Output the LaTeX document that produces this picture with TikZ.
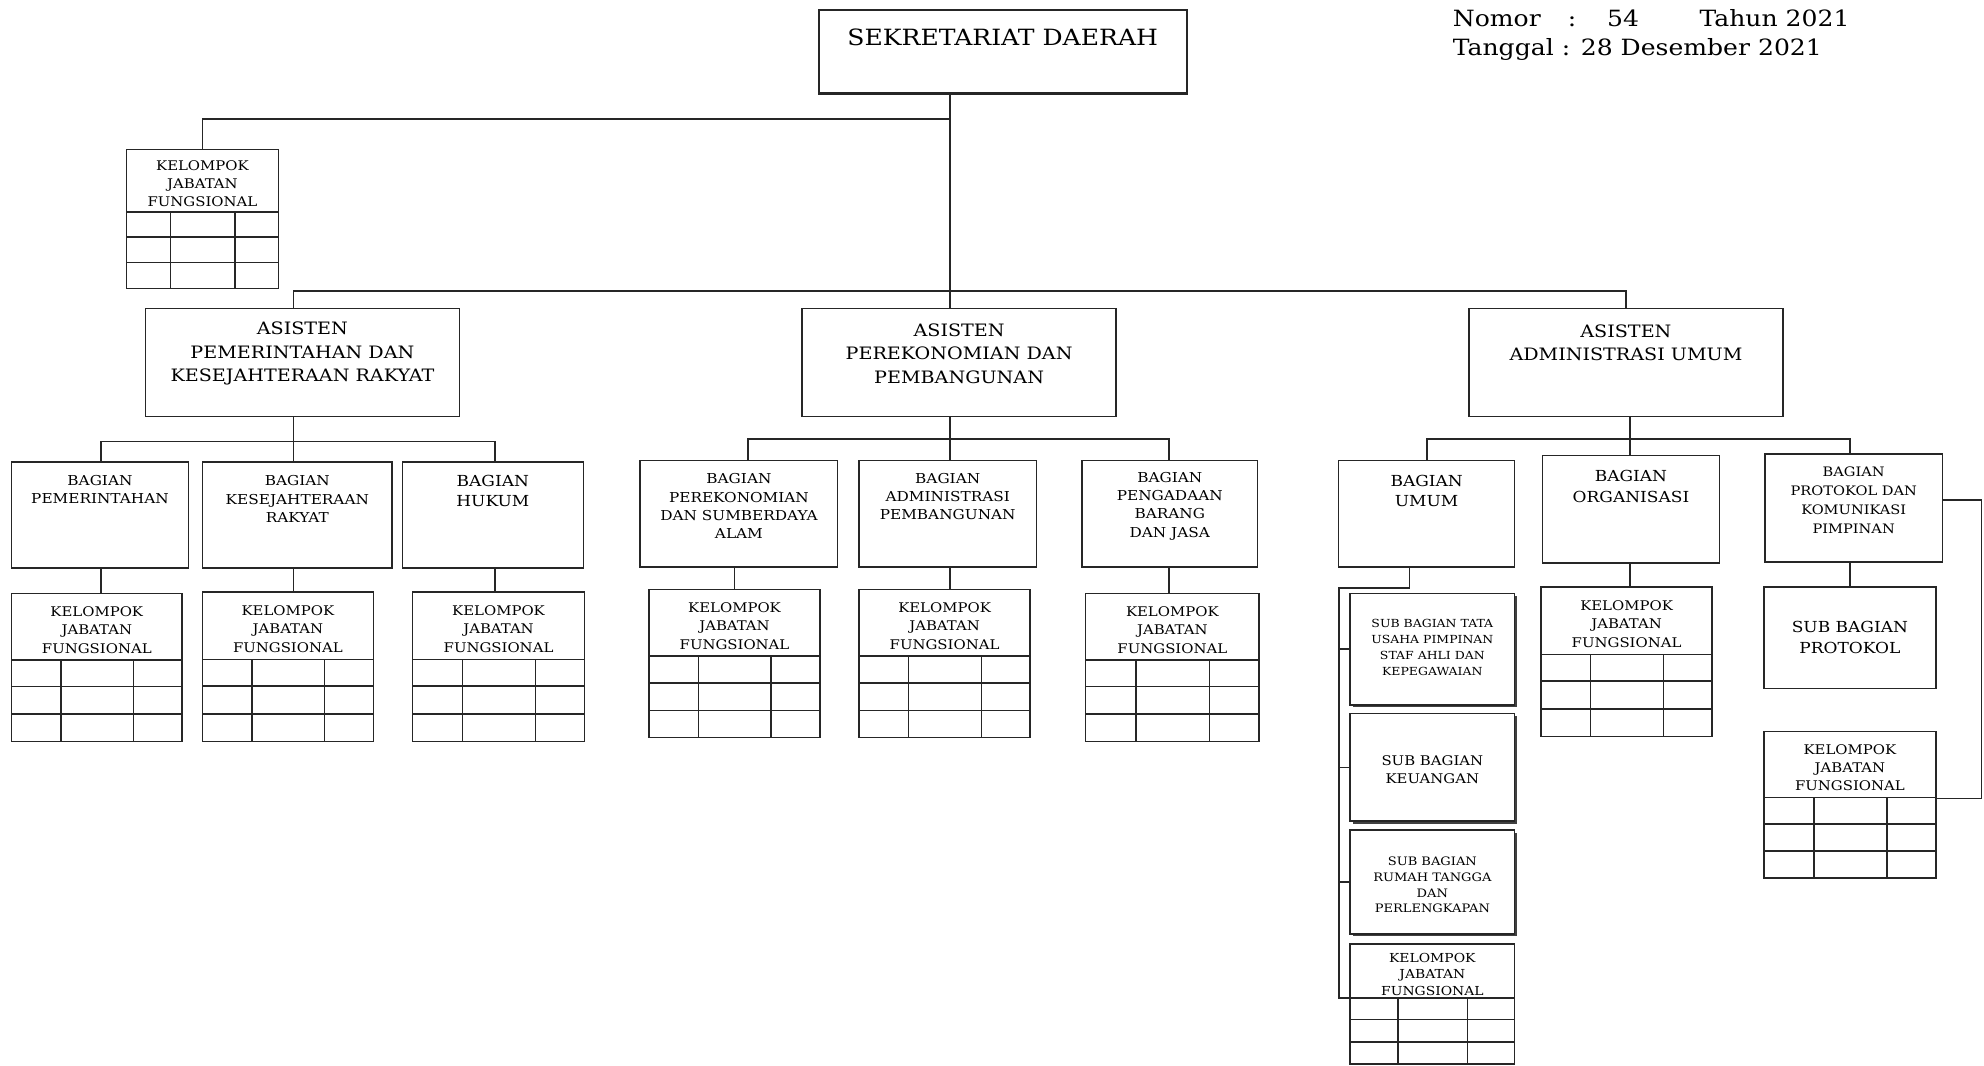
\documentclass[tikz,border=0pt]{standalone}
\usepackage{fontspec}
\setmainfont{DejaVu Serif}[FakeStretch=1.12]
\usetikzlibrary{shadows}
\newcommand\ocSek{\fontsize{17.7}{20}\selectfont}
\newcommand\ocHdr{\fontsize{17.7}{20}\selectfont}
\newcommand\ocAst{\fontsize{13.5}{18.5}\selectfont}
\newcommand\ocSm{\fontsize{10.8}{14.5}\selectfont}
\newcommand\ocMd{\fontsize{12}{16.5}\selectfont}
\newcommand\ocNine{\fontsize{10.3}{15}\selectfont}
\newcommand\ocTiny{\fontsize{8.8}{12.7}\selectfont}
\newcommand\ocTinyB{\fontsize{9.2}{12.3}\selectfont}
\newcommand\ocSbt{\fontsize{10.5}{14}\selectfont}
\newcommand\ocKj{\fontsize{10.5}{14.5}\selectfont}
\newcommand\ocKjs{\fontsize{9.8}{13}\selectfont}
\tikzset{
  bx/.style={draw=black!85, line width=1.2pt, fill=white, inner sep=0pt, outer sep=0pt},
  bxk/.style={bx, line width=1.8pt},
  sbx/.style={bx, drop shadow={shadow xshift=2pt, shadow yshift=-2pt, fill=black!75, opacity=1}},
  bxl/.style={draw=black!85, line width=1.2pt},
  ln/.style={draw=black!85, line width=1.4pt},
  tx/.style={align=center, inner sep=0pt, text=black},
  hdr/.style={inner sep=0pt, text=black, font=\ocHdr}
}
% #1 style, #2 name, #3 x1, #4 y1, #5 x2, #6 y2, #7 text centre y, #8 font, #9 text
\newcommand\obox[9]{%
  \node[#1, minimum width={#5-#3}, minimum height={#6-#4}] (#2) at ({(#3+#5)/2},{(#4+#6)/2}) {};
  \node[tx, font=#8] (#2-t) at ({(#3+#5)/2},#7) {#9};
}
\newcommand\kjf[6]{%
  \pgfmathsetmacro\kxa{#2+0.29*(#4-#2)}%
  \pgfmathsetmacro\kxb{#2+0.715*(#4-#2)}%
  \pgfmathsetmacro\kya{#3+0.45*(#5-#3)}%
  \pgfmathsetmacro\kyb{#3+0.63*(#5-#3)}%
  \pgfmathsetmacro\kyc{#3+0.815*(#5-#3)}%
  \pgfmathsetmacro\kyt{#3+0.225*(#5-#3)+2.5}%
  \node[bx, minimum width={#4-#2}, minimum height={#5-#3}] (#1) at ({(#2+#4)/2},{(#3+#5)/2}) {};
  \draw[bxl] (#2,\kya) -- (#4,\kya) (#2,\kyb) -- (#4,\kyb) (#2,\kyc) -- (#4,\kyc)
             (\kxa,\kya) -- (\kxa,#5) (\kxb,\kya) -- (\kxb,#5);
  \node[tx, font=#6] (#1-t) at ({(#2+#4)/2},\kyt) {KELOMPOK\\JABATAN\\FUNGSIONAL};
}
\begin{document}
\begin{tikzpicture}[x=1pt, y=-1pt]
\fill[white] (0,0) rectangle (1568,842);
\useasboundingbox (0,0) rectangle (1568,842);

% header text
\node[hdr, anchor=base west] (nomor) at (1148,21) {\makebox[91pt][l]{Nomor}\makebox[31pt][l]{:}\makebox[73pt][l]{54}Tahun 2021};
\node[hdr, anchor=base west] (tgl) at (1148,43.5) {Tanggal : 28 Desember 2021};

% top
\obox{bxk}{sek}{647}{8}{938}{74}{29.5}{\ocSek}{SEKRETARIAT DAERAH}
\kjf{K0}{100}{118}{220}{228}{\ocKj}

% assistants
\obox{bx}{A1}{115}{244}{363}{329}{279.5}{\ocAst}{ASISTEN\\PEMERINTAHAN DAN\\KESEJAHTERAAN RAKYAT}
\obox{bx}{A2}{634}{244}{882}{329}{279.5}{\ocAst}{ASISTEN\\PEREKONOMIAN DAN\\PEMBANGUNAN}
\obox{bx}{A3}{1161}{244}{1409}{329}{271}{\ocAst}{ASISTEN\\ADMINISTRASI UMUM}

% bagian
\obox{bx}{B1}{9}{365}{149}{449}{387}{\ocSm}{BAGIAN\\PEMERINTAHAN}
\obox{bx}{B2}{160}{365}{310}{449}{394.5}{\ocSm}{BAGIAN\\KESEJAHTERAAN\\RAKYAT}
\obox{bx}{B3}{318}{365}{461}{449}{388}{\ocMd}{BAGIAN\\HUKUM}
\obox{bx}{B4}{506}{364}{662}{448}{400}{\ocSm}{BAGIAN\\PEREKONOMIAN\\DAN SUMBERDAYA\\ALAM}
\obox{bx}{B5}{679}{364}{819}{448}{392.5}{\ocSm}{BAGIAN\\ADMINISTRASI\\PEMBANGUNAN}
\obox{bx}{B6}{855}{364}{994}{448}{400}{\ocSm}{BAGIAN\\PENGADAAN\\BARANG\\DAN JASA}
\obox{bx}{B7}{1058}{364}{1197}{448}{388}{\ocMd}{BAGIAN\\UMUM}
\obox{bx}{B8}{1219}{360}{1359}{445}{384.5}{\ocMd}{BAGIAN\\ORGANISASI}
\obox{bx}{B9}{1395}{359}{1535}{444}{395.5}{\ocNine}{BAGIAN\\PROTOKOL DAN\\KOMUNIKASI\\PIMPINAN}

% sub bagian
\obox{sbx}{SB1}{1067}{469}{1197}{557}{512}{\ocTiny}{SUB BAGIAN TATA\\USAHA PIMPINAN\\STAF AHLI DAN\\KEPEGAWAIAN}
\obox{sbx}{SB2}{1067}{564}{1197}{649}{608}{\ocSbt}{SUB BAGIAN\\KEUANGAN}
\obox{sbx}{SB3}{1067}{656}{1197}{738}{699.5}{\ocTinyB}{SUB BAGIAN\\RUMAH TANGGA\\DAN\\PERLENGKAPAN}
\obox{bx}{SBP}{1394}{464}{1530}{544}{503.5}{\ocMd}{SUB BAGIAN\\PROTOKOL}

% kelompok jabatan fungsional
\kjf{K1}{9}{469}{144}{586}{\ocKj}
\kjf{K2}{160}{468}{295}{586}{\ocKj}
\kjf{K3}{326}{468}{462}{586}{\ocKj}
\kjf{K4}{513}{466}{648}{583}{\ocKj}
\kjf{K5}{679}{466}{814}{583}{\ocKj}
\kjf{K6}{858}{469}{995}{586}{\ocKj}
\kjf{K8}{1218}{464}{1353}{582}{\ocKj}
\kjf{K9}{1394}{578}{1530}{694}{\ocKj}
\kjf{K7}{1067}{746}{1197}{841}{\ocKjs}

% connector coordinates
\coordinate (jf0) at (751,94);
\coordinate (busA1) at (232,230);
\coordinate (busA2) at (751,230);
\coordinate (busA3) at (1285,230);
\coordinate (g1a) at (80,349);
\coordinate (g1b) at (232,349);
\coordinate (g1c) at (391,349);
\coordinate (g2a) at (591,347);
\coordinate (g2b) at (751,347);
\coordinate (g2c) at (924,347);
\coordinate (g3a) at (1128,347);
\coordinate (g3b) at (1288,347);
\coordinate (g3c) at (1462,347);
\coordinate (u1) at (1114,465);
\coordinate (u2) at (1058,465);
\coordinate (u3) at (1058,789);
\coordinate (p1) at (1566,395);
\coordinate (p2) at (1566,631);

% connectors
\draw[ln] (sek.south -| busA2) -- (busA2 |- A2.north);
\draw[ln] (jf0) -| (K0.north);
\draw[ln] (busA1 |- A1.north) -- (busA1) -- (busA3) -- (busA3 |- A3.north);

\draw[ln] (A1.south -| g1b) -- (g1b |- B2.north);
\draw[ln] (g1a |- B1.north) -- (g1a) -- (g1c) -- (g1c |- B3.north);
\draw[ln] (B1.south -| g1a) -- (g1a |- K1.north);
\draw[ln] (B2.south -| g1b) -- (g1b |- K2.north);
\draw[ln] (B3.south -| g1c) -- (g1c |- K3.north);

\draw[ln] (A2.south -| g2b) -- (g2b |- B5.north);
\draw[ln] (g2a |- B4.north) -- (g2a) -- (g2c) -- (g2c |- B6.north);
\draw[ln] (B4.south -| K4.north) -- (K4.north);
\draw[ln] (B5.south -| g2b) -- (g2b |- K5.north);
\draw[ln] (B6.south -| g2c) -- (g2c |- K6.north);

\draw[ln] (A3.south -| g3b) -- (g3b |- B8.north);
\draw[ln] (g3a |- B7.north) -- (g3a) -- (g3c) -- (g3c |- B9.north);
\draw[ln] (B8.south -| g3b) -- (g3b |- K8.north);
\draw[ln] (B9.south -| g3c) -- (g3c |- SBP.north);
\draw[ln] (p1 -| B9.east) -- (p1) -- (p2) -- (p2 -| K9.east);

\draw[ln] (B7.south -| u1) -- (u1) -- (u2) -- (u3) -- (u3 -| K7.west);
\draw[ln] (SB1.west -| u2) -- (SB1.west);
\draw[ln] (SB2.west -| u2) -- (SB2.west);
\draw[ln] (SB3.west -| u2) -- (SB3.west);
\end{tikzpicture}
\end{document}
